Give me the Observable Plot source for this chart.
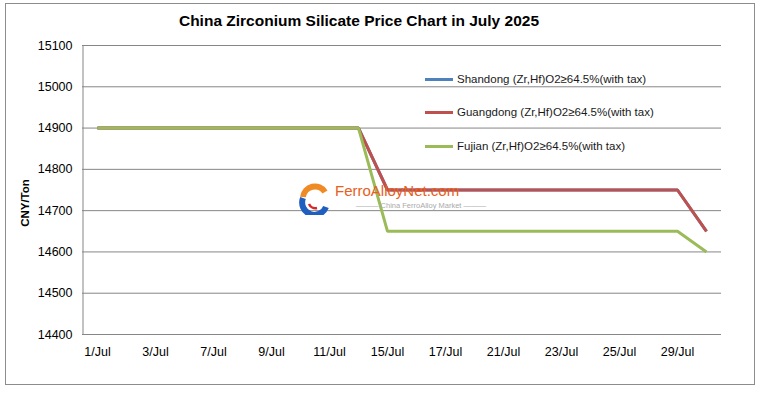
<!DOCTYPE html>
<html>
<head>
<meta charset="utf-8">
<script src="https://cdn.jsdelivr.net/npm/d3@7"></script>
<script src="https://cdn.jsdelivr.net/npm/@observablehq/plot@0.6"></script>
<style>
  html, body { margin: 0; padding: 0; background: #fff; }
  body { font-family: "Liberation Sans", Arial, sans-serif; }
  #wrap { position: relative; width: 764px; height: 395px; overflow: hidden; }
  #frame { position: absolute; left: 5px; top: 3px; width: 750px; height: 382px; border: 1px solid #8c8c8c; box-sizing: border-box; }
  #title { position: absolute; left: 0; width: 718px; top: 12px; text-align: center; font-weight: bold; font-size: 15.5px; color: #000; }
  #ylab { position: absolute; left: 25px; top: 203px; transform: translate(-50%, -50%) rotate(-90deg); font-weight: bold; font-size: 11.5px; white-space: nowrap; color: #000; }
  #chart { position: absolute; left: 0; top: 0; }
  #legend { position: absolute; left: 425px; top: 72px; font-size: 11.5px; color: #1a1a1a; }
  .lg { position: absolute; white-space: nowrap; height: 14px; line-height: 14px; }
  .lg span.sw { position: absolute; left: 0; top: 6px; width: 28px; height: 3px; }
  .lg span.tx { position: absolute; left: 32px; top: 0; }
  #wm { position: absolute; left: 299px; top: 182px; pointer-events: none; }
  #wm .t1 { position: absolute; left: 36px; top: 0px; font-size: 15px; color: #e8601c; white-space: nowrap; }
  #wm .t2 { position: absolute; left: 57px; top: 19px; font-size: 7.5px; color: #aaa; white-space: nowrap; }
</style>
</head>
<body>
<div id="wrap">
  <div id="frame"></div>
  <div id="chart"></div>
  <div id="title">China Zirconium Silicate Price Chart in July 2025</div>
  <div id="ylab">CNY/Ton</div>
  <div id="wm">
    <svg width="32" height="32" style="position:absolute;left:0;top:1px">
      <path d="M26 9 A12 12 0 0 0 4 14" stroke="#f08a24" stroke-width="6" fill="none"/>
      <path d="M4 15 A12 12 0 0 0 27 24" stroke="#1f5fbf" stroke-width="6" fill="none"/>
      <path d="M10 21 A7 7 0 0 0 18 25" stroke="#d42a2a" stroke-width="2.5" fill="none"/>
    </svg>
    <div class="t1">FerroAlloyNet.com</div>
    <div class="t2">——— China FerroAlloy Market ———</div>
  </div>
  <div id="legend"></div>
</div>
<script>
const dates = ["1/Jul","2/Jul","3/Jul","4/Jul","7/Jul","8/Jul","9/Jul","10/Jul","11/Jul","14/Jul","15/Jul","16/Jul","17/Jul","18/Jul","21/Jul","22/Jul","23/Jul","24/Jul","25/Jul","28/Jul","29/Jul","30/Jul"];
const tickLabels = ["1/Jul","3/Jul","7/Jul","9/Jul","11/Jul","15/Jul","17/Jul","21/Jul","23/Jul","25/Jul","29/Jul"];
const seriesNames = ["Shandong (Zr,Hf)O2≥64.5%(with tax)","Guangdong (Zr,Hf)O2≥64.5%(with tax)","Fujian (Zr,Hf)O2≥64.5%(with tax)"];
const seriesColors = ["#4f81bd","#c0504d","#9bbb59"];
const shandong  = [14900,14900,14900,14900,14900,14900,14900,14900,14900,14900,14750,14750,14750,14750,14750,14750,14750,14750,14750,14750,14750,14650];
const guangdong = [14900,14900,14900,14900,14900,14900,14900,14900,14900,14900,14750,14750,14750,14750,14750,14750,14750,14750,14750,14750,14750,14650];
const fujian    = [14900,14900,14900,14900,14900,14900,14900,14900,14900,14900,14650,14650,14650,14650,14650,14650,14650,14650,14650,14650,14650,14600];
const yTicks = [14400,14500,14600,14700,14800,14900,15000,15100];

const allSeries = [shandong, guangdong, fujian];
const rows = [];
allSeries.forEach((vals, s) => vals.forEach((v, i) => rows.push({series: seriesNames[s], date: dates[i], value: v})));

const chart = Plot.plot({
  width: 764,
  height: 395,
  marginLeft: 82,
  marginRight: 43,
  marginTop: 45,
  marginBottom: 61,
  style: {fontFamily: "Liberation Sans, Arial, sans-serif", fontSize: "12px", color: "#000", background: "transparent"},
  x: {type: "point", domain: dates, padding: 0.5, label: null},
  y: {domain: [14400, 15100], label: null},
  color: {domain: seriesNames, range: seriesColors},
  marks: [
    Plot.gridY(yTicks, {stroke: "#868686", strokeOpacity: 1, strokeWidth: 1}),
    Plot.ruleX([dates[0]], {stroke: "#868686", dx: -14.5, y1: 14400, y2: 15100}),
    Plot.axisY(yTicks, {tickSize: 0, tickPadding: 10, fontSize: 12.5, tickFormat: d => String(d), label: null}),
    Plot.axisX(tickLabels, {tickSize: 0, tickPadding: 13, fontSize: 12.5, label: null}),
    Plot.lineY(rows, {x: "date", y: "value", z: "series", stroke: "series", strokeWidth: 3, strokeLinejoin: "miter", strokeLinecap: "butt"})
  ]
});
document.getElementById("chart").appendChild(chart);

const legend = document.getElementById("legend");
seriesNames.forEach((n, i) => {
  const d = document.createElement("div");
  d.className = "lg";
  d.style.top = (i * 33.3) + "px";
  d.innerHTML = `<span class="sw" style="background:${seriesColors[i]}"></span><span class="tx">${n}</span>`;
  legend.appendChild(d);
});
</script>
</body>
</html>
